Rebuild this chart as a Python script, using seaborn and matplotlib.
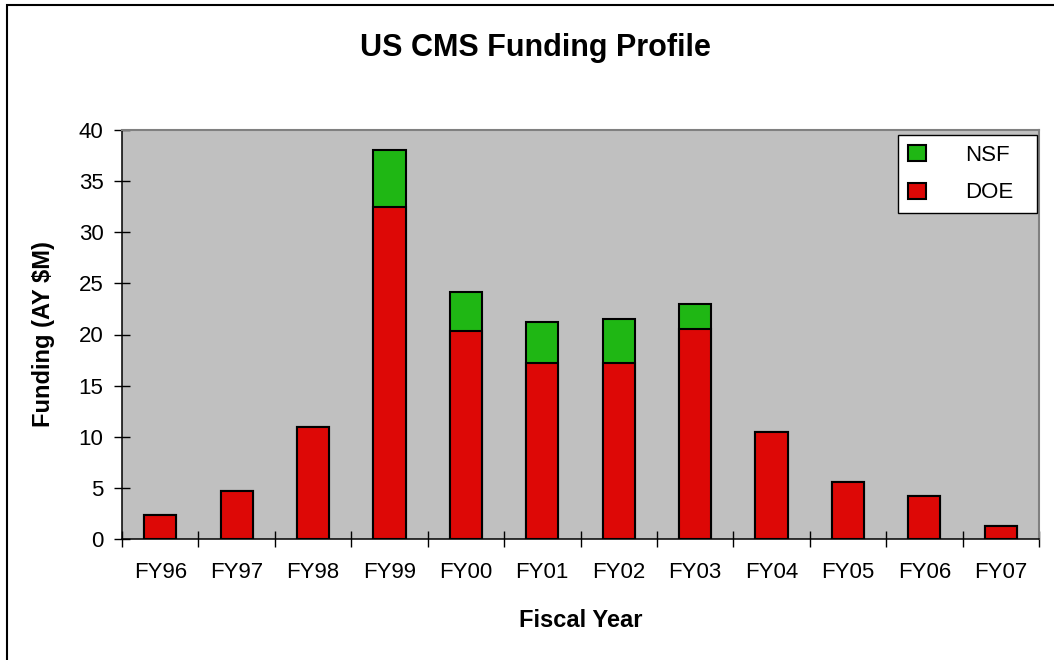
import pandas as pd
import matplotlib.pyplot as plt
import seaborn as sns
from matplotlib.patches import Patch, Rectangle
from matplotlib.ticker import FixedLocator, MultipleLocator

# values (AY $M)
years = ['FY96', 'FY97', 'FY98', 'FY99', 'FY00', 'FY01',
         'FY02', 'FY03', 'FY04', 'FY05', 'FY06', 'FY07']
doe = [2.3, 4.7, 11.0, 32.5, 20.3, 17.2, 17.2, 20.5, 10.5, 5.6, 4.2, 1.3]
nsf = [0, 0, 0, 5.5, 3.9, 4.0, 4.3, 2.5, 0, 0, 0, 0]

red = '#DD0806'
green = '#1FB714'

df = pd.DataFrame({'year': years, 'DOE': doe, 'NSF': nsf})
df['total'] = df['DOE'] + df['NSF']

plt.rcParams['font.family'] = ['Liberation Sans', 'DejaVu Sans']

fig = plt.figure(figsize=(10.54, 6.6), dpi=100)
ax = fig.add_axes([122 / 1054, 121 / 660, 917 / 1054, 409 / 660])
ax.set_facecolor('#C0C0C0')

# stacked bars: full height in green, DOE part in red drawn over it
sns.barplot(data=df, x='year', y='total', color=green, saturation=1,
            width=0.42, edgecolor='black', linewidth=1.5, errorbar=None, ax=ax)
sns.barplot(data=df, x='year', y='DOE', color=red, saturation=1,
            width=0.42, edgecolor='black', linewidth=1.5, errorbar=None, ax=ax)

ax.set_xlim(-0.5, len(years) - 0.5)
ax.set_ylim(0, 40)
ax.yaxis.set_major_locator(MultipleLocator(5))

# category labels in the middle, tick marks on the boundaries
ax.xaxis.set_minor_locator(FixedLocator([i - 0.5 for i in range(len(years) + 1)]))
ax.tick_params(axis='x', which='major', length=0, pad=16.5, labelsize=16)
ax.tick_params(axis='x', which='minor', direction='inout', length=11.5, width=1)
ax.tick_params(axis='y', direction='inout', length=11.5, width=1, pad=7.5, labelsize=16)

for s in ['left', 'bottom']:
    ax.spines[s].set_color('black')
    ax.spines[s].set_linewidth(1.1)
for s in ['top', 'right']:
    ax.spines[s].set_color('#808080')
    ax.spines[s].set_linewidth(1.5)

ax.set_xlabel('Fiscal Year', fontsize=17, fontweight='bold', va='baseline')
ax.xaxis.set_label_coords(0.5, (539 - 627) / 409)
ax.set_ylabel('Funding (AY $M)', fontsize=17, fontweight='bold',
              va='baseline', rotation_mode='anchor')
ax.yaxis.set_label_coords((50 - 122) / 917, 0.5)

fig.text(0.508, 1 - 56 / 660, 'US CMS Funding Profile', ha='center',
         va='baseline', fontsize=22, fontweight='bold')

handles = [Patch(facecolor=green, edgecolor='black', linewidth=1.5, label='NSF'),
           Patch(facecolor=red, edgecolor='black', linewidth=1.5, label='DOE')]
leg = ax.legend(handles=handles, loc='upper left', mode='expand',
                bbox_to_anchor=((898 - 122) / 917, 0.8, 139 / 917, (539 - 135) / 409 - 0.8),
                borderaxespad=0, fontsize=16, handlelength=0.8, handleheight=0.75,
                handletextpad=1.75, labelspacing=0.74, borderpad=0.45,
                fancybox=False, framealpha=1, edgecolor='black')
leg.get_frame().set_linewidth(1)

# outer chart-area border (only left and top edges fall inside the image)
fig.add_artist(Rectangle((7 / 1054, -0.05), 1.2, 1 - 5 / 660 + 0.05,
                         transform=fig.transFigure, fill=False,
                         edgecolor='black', linewidth=1.5))

fig.savefig('out.png', dpi=100)
